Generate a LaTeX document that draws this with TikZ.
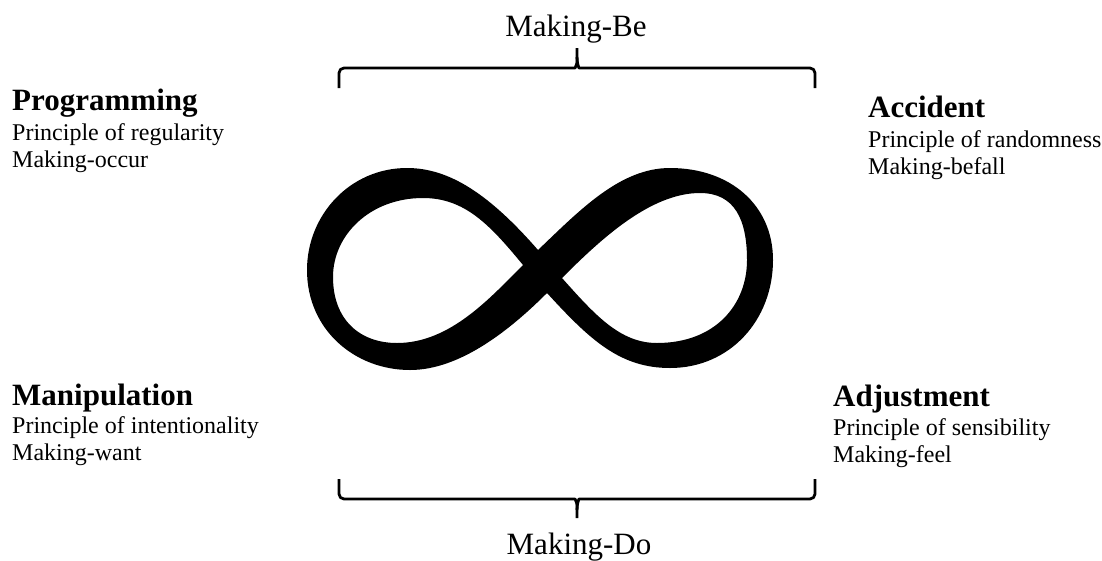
\documentclass[tikz,border=0pt]{standalone}
\usepackage{fontspec}
\setmainfont{Liberation Serif}
\usepackage{tikz}
\definecolor{inkblack}{HTML}{000000}
\tikzset{
  heading/.style={anchor=base west,inner sep=0pt,font=\fontsize{31}{36}\selectfont\bfseries},
  subline/.style={anchor=base west,inner sep=0pt,font=\fontsize{24}{28}\selectfont},
  bracelabel/.style={anchor=base,inner sep=0pt,font=\fontsize{31}{36}\selectfont},
  bracket/.style={draw=inkblack,line width=2.8pt,line join=round}
}

\begin{document}
\begin{tikzpicture}[x=1pt,y=-1pt]
    \useasboundingbox (0,0) rectangle (1102,560);

    % corner blocks
    \node[heading] (prog)  at (12,110) {Programming};
    \node[subline] (progp) at (12,140) {Principle of regularity};
    \node[subline] (progm) at (12,167) {Making-occur};

    \node[heading] (acc)  at (868,117) {Accident};
    \node[subline] (accp) at (868,147) {Principle of randomness};
    \node[subline] (accm) at (868,174) {Making-befall};

    \node[heading] (manip)  at (12,405) {Manipulation};
    \node[subline] (manipp) at (12,433) {Principle of intentionality};
    \node[subline] (manipm) at (12,460) {Making-want};

    \node[heading] (adj)  at (833,406) {Adjustment};
    \node[subline] (adjp) at (833,435) {Principle of sensibility};
    \node[subline] (adjm) at (833,462) {Making-feel};

    % braces
    \node[bracelabel] (be) at (576,36) {Making-Be};
    \draw[bracket,rounded corners=5pt] (339,88) -- (339,68) -- (570,68)
      .. controls (575,68) and (577,64) .. (577,57) -- (577,48);
    \draw[bracket,rounded corners=5pt] (815,88) -- (815,68) -- (584,68)
      .. controls (579,68) and (577,64) .. (577,57);

    \node[bracelabel] (do) at (579,554) {Making-Do};
    \draw[bracket,rounded corners=5pt] (339,479) -- (339,499) -- (570,499)
      .. controls (575,499) and (577,503) .. (577,510) -- (577,518);
    \draw[bracket,rounded corners=5pt] (815,479) -- (815,499) -- (584,499)
      .. controls (579,499) and (577,503) .. (577,510);

    % infinity
    \fill[inkblack,even odd rule]
      (538,250) .. controls (490,195) and (450,168) .. (407,168)
      .. controls (350,168) and (307,215) .. (307,270)
      .. controls (307,330) and (355,370) .. (410,370)
      .. controls (460,370) and (510,330) .. (547,293)
      .. controls (590,340) and (620,368) .. (670,368)
      .. controls (730,368) and (773,320) .. (773,260)
      .. controls (773,205) and (730,168) .. (670,168)
      .. controls (620,168) and (580,210) .. (538,250) -- cycle
      (523,265) .. controls (490,225) and (465,198) .. (423,198)
      .. controls (370,198) and (333,235) .. (333,277)
      .. controls (333,320) and (360,343) .. (397,343)
      .. controls (450,343) and (490,298) .. (523,265) -- cycle
      (562,278) .. controls (595,315) and (620,343) .. (657,343)
      .. controls (715,343) and (747,305) .. (747,260)
      .. controls (747,220) and (735,193) .. (700,193)
      .. controls (650,193) and (600,240) .. (562,278) -- cycle;
  \end{tikzpicture}
\end{document}
